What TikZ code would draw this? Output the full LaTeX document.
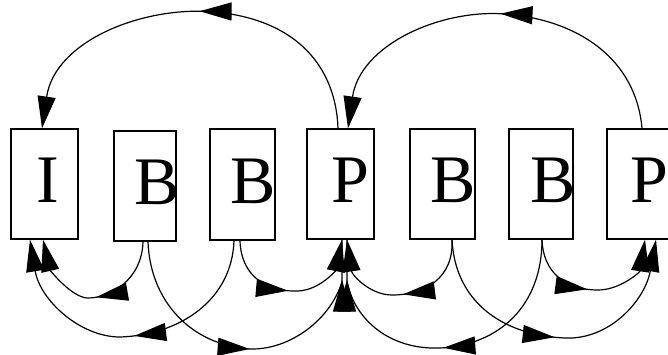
\documentclass[tikz,border=0pt]{standalone}
\usepackage{fontspec}
\setmainfont{Liberation Serif}
\usetikzlibrary{arrows.meta,decorations.markings}
\begin{document}
\begin{tikzpicture}[x=1pt,y=-1pt,
  frame/.style={draw,line width=1.3pt,minimum height=110pt,inner sep=0pt},
  letter/.style={font=\fontsize{68}{68}\selectfont,inner sep=0pt,yshift=3.5pt},
  >={Triangle[length=32pt,width=18pt]},
  link/.style={line width=1.2pt},
  mid/.style={postaction={decorate,decoration={markings,mark=at position #1 with {\arrow{>}}}}},
]
\useasboundingbox (0,0) rectangle (668,354);
% frames
\node[frame,minimum width=67pt,label={[letter,xshift=3pt]center:I}] (i) at (44.5,184) {};
\node[frame,minimum width=62pt,label={[letter,xshift=11.9pt]center:B}] (b1) at (145,186) {};
\node[frame,minimum width=65pt,minimum height=111pt,label={[letter,xshift=10.4pt]center:B}] (b2) at (242.5,184.5) {};
\node[frame,minimum width=67pt,label={[letter,xshift=9.5pt]center:P}] (p1) at (340.5,184) {};
\node[frame,minimum width=65pt,label={[letter,xshift=10.4pt]center:B}] (b3) at (442.5,184) {};
\node[frame,minimum width=64pt,label={[letter,xshift=11.9pt]center:B}] (b4) at (541,184) {};
\node[frame,minimum width=66pt,label={[letter,xshift=9.5pt]center:P}] (p2) at (640,184) {};
% top arcs
\draw[link,->,mid=203pt] ([xshift=-2.5pt]p1.north) .. controls (336,70) and (300,20) .. (215,12)
   .. controls (145,5.4) and (55,40) .. ([xshift=-2.5pt]i.north);
\draw[link,->,mid=200pt] ([xshift=2pt]p2.north) .. controls (636,60) and (580,20) .. (505,14)
   .. controls (440,9) and (360,45) .. ([xshift=7.5pt]p1.north);
% left half, bottom
\draw[link,->,mid=79pt] ([xshift=-2pt]b1.south) .. controls (142,280) and (110,298) .. (88,298)
   .. controls (72,298) and (50,270) .. ([xshift=-1.5pt]i.south);
\draw[link,->,mid=151pt] ([xshift=-8.5pt]b2.south) .. controls (232,300) and (180,335) .. (120,337)
   .. controls (80,337) and (40,300) .. ([xshift=-14.5pt]i.south);
\draw[link,mid=163pt,mid=-40pt] ([xshift=3pt]b1.south) .. controls (150,300) and (190,345) .. (250,349)
   .. controls (290,350) and (330,320) .. (342,282) -- ([xshift=1.5pt]p1.south);
\draw[link,->,mid=77pt] ([xshift=-2.5pt]b2.south) .. controls (241,275) and (265,292) .. (298,291)
   .. controls (320,290) and (336,270) .. ([xshift=1.5pt]p1.south);
% right half, bottom
\draw[link,->,mid=82pt] ([xshift=9.5pt]b3.south) .. controls (454,278) and (425,295) .. (392,295)
   .. controls (370,295) and (352,275) .. ([xshift=6.5pt]p1.south);
\draw[link,mid=163pt,mid=-40pt] ([xshift=1pt]b4.south) .. controls (542,305) and (500,345) .. (440,348)
   .. controls (390,350) and (355,320) .. (347,282) -- ([xshift=6.5pt]p1.south);
\draw[link,->,mid=156pt] ([xshift=9.5pt]b3.south) .. controls (455,300) and (500,335) .. (565,338)
   .. controls (610,340) and (645,300) .. ([xshift=16pt]p2.south);
\draw[link,->,mid=74pt] ([xshift=1pt]b4.south) .. controls (543,272) and (565,290) .. (598,290)
   .. controls (620,290) and (640,272) .. ([xshift=5pt]p2.south);
\end{tikzpicture}
\end{document}
